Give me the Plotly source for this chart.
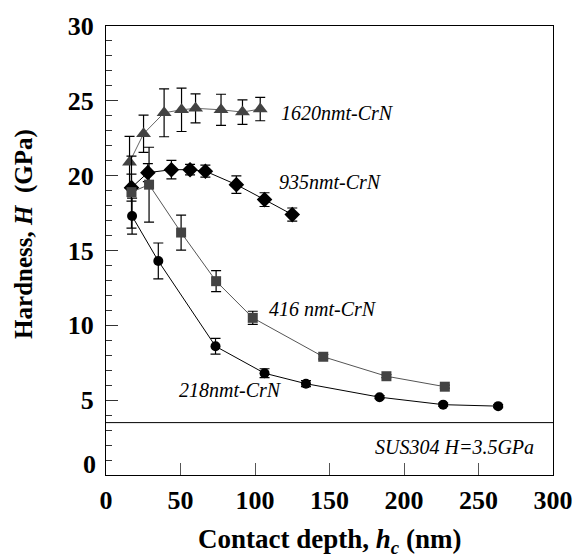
import plotly.graph_objects as go

# Nanoindentation hardness of CrN coatings on SUS304 vs. contact depth
x_218 = [17.5, 35.1, 73.5, 106.4, 134.2, 183.6, 226.3, 263.2]
h_218 = [17.3, 14.3, 8.6, 6.8, 6.1, 5.2, 4.7, 4.6]
e_218 = [1.2, 1.2, 0.53, 0.3, 0.2, 0.1, 0.1, 0.1]

x_416 = [17.1, 28.9, 50.4, 73.9, 98.5, 145.8, 188.2, 227.4]
h_416 = [18.9, 19.4, 16.2, 12.95, 10.5, 7.9, 6.6, 5.9]
e_416 = [2.4, 2.5, 1.17, 0.7, 0.44, 0.15, 0.1, 0.1]

x_935 = [17.1, 28.1, 43.9, 56.4, 66.7, 87.5, 106.4, 125.0]
h_935 = [19.2, 20.2, 20.4, 20.4, 20.3, 19.4, 18.4, 17.4]
e_935 = [0.9, 0.6, 0.62, 0.35, 0.4, 0.58, 0.46, 0.44]

x_1620 = [15.8, 25.2, 39.0, 50.7, 60.1, 77.2, 91.6, 103.5]
h_1620 = [20.9, 22.8, 24.2, 24.4, 24.5, 24.4, 24.25, 24.45]
e_1620 = [1.72, 1.25, 1.6, 1.45, 0.97, 1.04, 0.82, 0.78]

SUS304_H = 3.5

x_ticks = [0, 50, 100, 150, 200, 250, 300]
y_ticks = [0, 5, 10, 15, 20, 25, 30]

SERIF = "Liberation Serif"
GRAY = "#434343"

series = [
    (x_1620, h_1620, e_1620, "triangle-up", 13, GRAY, "#666666"),
    (x_935, h_935, e_935, "diamond", 12, "black", "black"),
    (x_416, h_416, e_416, "square", 10, GRAY, "#555555"),
    (x_218, h_218, e_218, "circle", 10, "black", "black"),
]

fig = go.Figure()
for xs, ys, es, sym, sz, mcol, lcol in series:
    fig.add_trace(go.Scatter(
        x=xs, y=ys, mode="lines+markers",
        line=dict(color=lcol, width=1),
        marker=dict(symbol=sym, size=sz, color=mcol, line=dict(width=0)),
        error_y=dict(type="data", array=es, visible=True,
                     color="black", thickness=1.2, width=5),
        showlegend=False,
    ))

fig.add_shape(type="line", xref="paper", x0=0, x1=1, yref="y",
              y0=SUS304_H, y1=SUS304_H, line=dict(color="black", width=1))

labels = [
    ("1620nmt-CrN", 116.4, 24.2, "left"),
    ("935nmt-CrN", 114.5, 19.6, "left"),
    ("416 nmt-CrN", 107.9, 11.1, "left"),
    ("218nmt-CrN", 47.6, 5.66, "left"),
    (f"SUS304 H={SUS304_H}GPa", 288.8, 1.9, "right"),
]
for txt, lx, ly, anc in labels:
    fig.add_annotation(x=lx, y=ly, xref="x", yref="y", text=f"<i>{txt}</i>",
                       showarrow=False, xanchor=anc, yanchor="middle",
                       font=dict(family=SERIF, size=20, color="black"))

tick_font = dict(family=SERIF, size=26, color="black", weight="bold")

# The y-axis "0" sits slightly raised so it clears the x-axis "0"
fig.add_annotation(xref="paper", yref="y", x=0, xshift=-8, y=y_ticks[0], yshift=11,
                   xanchor="right", yanchor="middle", showarrow=False,
                   text=str(y_ticks[0]), font=tick_font)

# Axis titles
fig.add_annotation(xref="paper", yref="paper", x=0.5, y=0, yshift=-47,
                   xanchor="center", yanchor="top", showarrow=False,
                   text="<b>Contact depth, <i>h</i><sub><i>c</i></sub> (nm)</b>",
                   font=dict(family=SERIF, size=27, color="black"))
fig.add_annotation(xref="paper", yref="paper", x=0, xshift=-82, y=0.537,
                   xanchor="center", yanchor="middle", showarrow=False,
                   textangle=-90,
                   text="<b>Hardness, <i>H</i>  (GPa)</b>",
                   font=dict(family=SERIF, size=25, color="black"))

fig.update_xaxes(range=[0, 300], tickvals=x_ticks, ticktext=[str(v) for v in x_ticks],
                 ticks="inside", ticklen=12, tickcolor="#555555", tickwidth=1,
                 showline=True, linecolor="black", linewidth=1, mirror=True,
                 showgrid=False, zeroline=False, ticklabelstandoff=2,
                 tickfont=tick_font)
fig.update_yaxes(range=[0, 30], tickvals=y_ticks,
                 ticktext=[""] + [str(v) for v in y_ticks[1:]],
                 ticks="inside", ticklen=12, tickcolor="#333333", tickwidth=1,
                 minor=dict(dtick=1, ticks="inside", ticklen=6, tickcolor="#333333"),
                 showline=True, linecolor="black", linewidth=1, mirror=True,
                 showgrid=False, zeroline=False, ticklabelstandoff=6,
                 tickfont=tick_font)

fig.update_layout(width=585, height=560,
                  font=dict(family=SERIF),
                  margin=dict(l=106, r=23, t=22, b=84.5),
                  plot_bgcolor="white", paper_bgcolor="white")

fig.write_html("out.html")
